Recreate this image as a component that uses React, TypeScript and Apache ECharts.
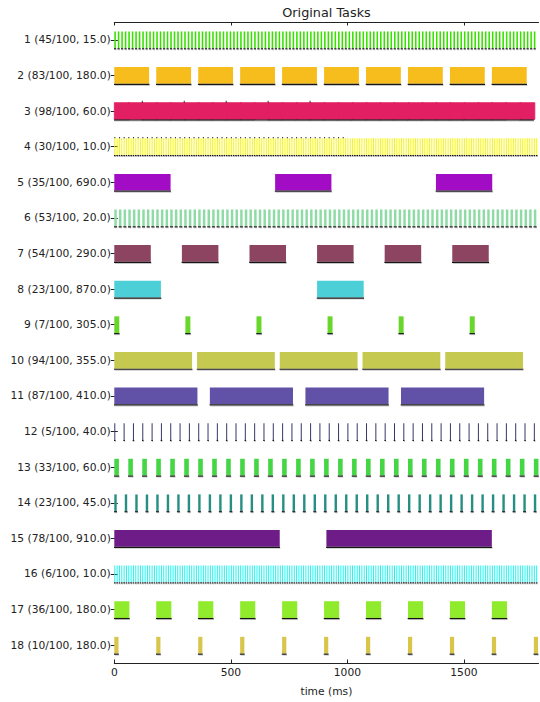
import React, { useEffect, useRef } from "react";
import * as echarts from "echarts";

// Task tick labels (row order top to bottom)
const taskLabels = [
  "1 (45/100, 15.0)",
  "2 (83/100, 180.0)",
  "3 (98/100, 60.0)",
  "4 (30/100, 10.0)",
  "5 (35/100, 690.0)",
  "6 (53/100, 20.0)",
  "7 (54/100, 290.0)",
  "8 (23/100, 870.0)",
  "9 (7/100, 305.0)",
  "10 (94/100, 355.0)",
  "11 (87/100, 410.0)",
  "12 (5/100, 40.0)",
  "13 (33/100, 60.0)",
  "14 (23/100, 45.0)",
  "15 (78/100, 910.0)",
  "16 (6/100, 10.0)",
  "17 (36/100, 180.0)",
  "18 (10/100, 180.0)",
];
// Period (ms) of each task
const periods = [15, 180, 60, 10, 690, 20, 290, 870, 305, 355, 410, 40, 60, 45, 910, 10, 180, 180];
// Utilization (percent of period executed per job)
const utilizations = [45, 83, 98, 30, 35, 53, 54, 23, 7, 94, 87, 5, 33, 23, 78, 6, 36, 10];
// Number of jobs drawn for each task (counted from the picture)
const jobCounts = [121, 10, 30, 182, 3, 91, 6, 2, 6, 5, 4, 46, 31, 41, 2, 182, 10, 11];
const taskColors = [
  "#38e000", "#f6bd1d", "#e31f63", "#f8f800", "#a10cc4", "#8fdba6",
  "#8d4461", "#4ccfd6", "#68d62a", "#c6c94f", "#6152a7", "#363668",
  "#44d645", "#268f83", "#6d1c88", "#1ef5f0", "#8feb2b", "#d8c54a",
];
// Small extra marks seen above rows 3 and 4
const row3Marks = [120, 300, 480, 660, 840];
const row4DotSpan = [0, 1000];
const xTicks = [0, 500, 1000, 1500];
const xMax = 1820;

const FONT = "DejaVu Sans";

export default function App() {
  const ref = useRef<HTMLDivElement>(null);

  useEffect(() => {
    if (!ref.current) return;
    const chart = echarts.init(ref.current, undefined, { renderer: "svg" });

    const jobs: any[] = [];
    for (let i = 0; i < periods.length; i++) {
      const T = periods[i];
      const w = (utilizations[i] / 100) * T;
      for (let k = 0; k < jobCounts[i]; k++) {
        const s = k * T;
        // value: [row, start, end, next release]
        jobs.push({ value: [i, s, s + w, s + T], itemStyle: { color: taskColors[i] } });
      }
    }

    const barGeom = (api: any, row: number, s: number, e: number) => {
      const p0 = api.coord([s, row]);
      const p1 = api.coord([e, row]);
      const band = api.size([0, 1])[1];
      const h = band * 0.47;
      const top = p0[1] - h / 2;
      return { x0: p0[0], x1: p1[0], top, h };
    };

    const option: any = {
      animation: false,
      backgroundColor: "#ffffff",
      textStyle: { fontFamily: FONT },
      grid: { left: 114.3, right: 1.5, top: 22, bottom: 33, containLabel: false },
      graphic: [
        {
          type: "text",
          x: 326.5,
          y: 12.5,
          style: {
            text: "Original Tasks",
            textAlign: "center",
            align: "center",
            textVerticalAlign: "middle",
            verticalAlign: "middle",
            fontSize: 12.8,
            fontFamily: FONT,
            fill: "#222",
          },
        },
      ],
      xAxis: [
        {
          type: "value",
          position: "bottom",
          min: 0,
          max: xMax,
          interval: 500,
          name: "time (ms)",
          nameLocation: "middle",
          nameGap: 23,
          nameTextStyle: { fontSize: 10.7, color: "#222", fontFamily: FONT },
          axisLine: { show: true, lineStyle: { color: "#222", width: 1 } },
          axisTick: { show: true, inside: true, length: 3.5, customValues: xTicks, lineStyle: { color: "#222" } },
          axisLabel: {
            show: true,
            customValues: xTicks,
            formatter: (v: number) => String(v),
            fontSize: 10.7,
            color: "#222",
            margin: 4,
            fontFamily: FONT,
          },
          splitLine: { show: false },
        },
        {
          type: "value",
          position: "top",
          min: 0,
          max: xMax,
          interval: 500,
          axisLine: { show: true, lineStyle: { color: "#222", width: 1 } },
          axisTick: { show: true, inside: true, length: 3.5, customValues: xTicks, lineStyle: { color: "#222" } },
          axisLabel: { show: false },
          splitLine: { show: false },
        },
      ],
      yAxis: [
        {
          type: "category",
          data: taskLabels,
          inverse: true,
          position: "left",
          axisLine: { show: false },
          axisTick: { show: true, inside: true, length: 3.5, alignWithLabel: true, lineStyle: { color: "#222" } },
          axisLabel: { fontSize: 10.7, color: "#222", margin: 3.5, fontFamily: FONT },
          splitLine: { show: false },
        },
        {
          type: "category",
          data: taskLabels,
          inverse: true,
          position: "right",
          axisLine: { show: false },
          axisTick: { show: true, inside: true, length: 3.5, alignWithLabel: true, lineStyle: { color: "#222" } },
          axisLabel: { show: false },
          splitLine: { show: false },
        },
      ],
      series: [
        {
          type: "custom",
          xAxisIndex: 0,
          yAxisIndex: 0,
          encode: { x: [1, 2], y: 0 },
          dimensions: ["row", "start", "end", "next"],
          data: jobs,
          renderItem: (params: any, api: any) => {
            const row = api.value(0);
            const g = barGeom(api, row, api.value(1), api.value(2));
            const nextVal = api.value(3);
            const nextX = api.coord([nextVal, row])[0];
            const rawW = g.x1 - g.x0;
            let w = Math.max(rawW, 1);
            // sub-pixel gaps are not visible in the reference: close them
            const closeGap = isFinite(nextX) && nextX - (g.x0 + w) < 0.6 && rawW > 3;
            if (closeGap) w = nextX - g.x0 + 1;
            const color = api.visual("color");
            const barStyle: any = { fill: color };
            if (closeGap) {
              barStyle.stroke = color;
              barStyle.lineWidth = 0.8;
            }
            return {
              type: "group",
              children: [
                { type: "rect", shape: { x: g.x0, y: g.top, width: w, height: g.h }, style: barStyle },
                { type: "rect", shape: { x: g.x0 + 0.4, y: g.top + g.h + 1.1, width: Math.max(rawW, 1) + 0.3, height: 1 }, style: { fill: "rgba(0,0,0,0.22)" } },
                { type: "rect", shape: { x: g.x0 - 0.3, y: g.top + g.h, width: Math.max(rawW, 1) + 0.6, height: 1.2 }, style: { fill: "#151515" } },
              ],
            };
          },
        },
        {
          type: "custom",
          xAxisIndex: 0,
          yAxisIndex: 0,
          encode: { x: 1, y: 0 },
          data: row3Marks.map((v) => [2, v]),
          renderItem: (params: any, api: any) => {
            const g = barGeom(api, api.value(0), api.value(1), api.value(1));
            return {
              type: "rect",
              shape: { x: g.x0 - 0.5, y: g.top - 1.8, width: 1, height: 1.8 },
              style: { fill: "#333" },
            };
          },
        },
        {
          type: "custom",
          xAxisIndex: 0,
          yAxisIndex: 0,
          encode: { x: [1, 2], y: 0 },
          data: [[3, row4DotSpan[0], row4DotSpan[1]]],
          renderItem: (params: any, api: any) => {
            const g = barGeom(api, api.value(0), api.value(1), api.value(2));
            return {
              type: "line",
              shape: { x1: g.x0, y1: g.top - 0.6, x2: g.x1, y2: g.top - 0.6 },
              style: { stroke: "#333", lineWidth: 1.2, lineDash: [1.1, 3.56] },
            };
          },
        },
      ],
    };

    chart.setOption(option);
    return () => chart.dispose();
  }, []);

  return (
    <div
      ref={ref}
      style={{ position: "fixed", left: 0, top: 0, width: 540, height: 702, background: "#fff" }}
    />
  );
}
